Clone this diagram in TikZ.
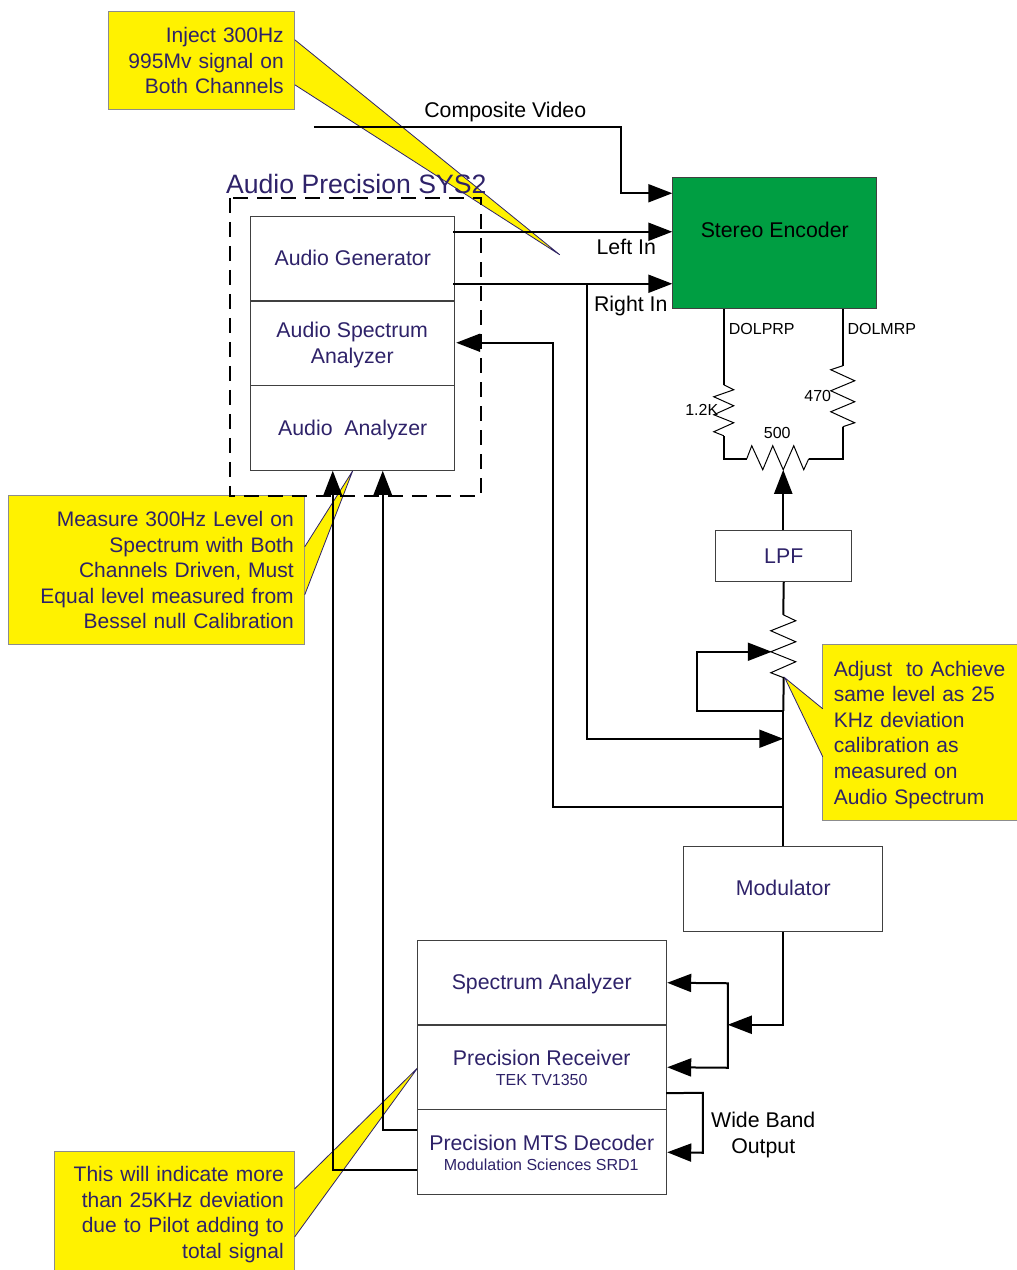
\documentclass[tikz,border=0pt]{standalone}
\usepackage{fontspec}
\setmainfont{Liberation Sans}
\usetikzlibrary{calc,arrows.meta}
\definecolor{inkblue}{HTML}{2E2269}
\definecolor{notefill}{HTML}{FFF200}
\definecolor{encgreen}{HTML}{009E42}
\newcommand{\notetail}[3]{%
  \fill[notefill] (#1) -- (#2) -- (#3) -- cycle;
  \draw[inkblue,line width=0.8pt] (#1) -- (#2) -- (#3);}
\begin{document}
\begin{tikzpicture}[x=1pt,y=-1pt]
       \tikzstyle{unit} = [draw=black!75, line width=0.9pt, inner sep=0pt, align=center, text=inkblue, font=\fontsize{21.3}{26}\selectfont];
       \tikzstyle{note} = [draw=black!45, line width=0.9pt, fill=notefill, inner xsep=11pt, inner ysep=0pt, text=inkblue, font=\fontsize{21}{25.6}\selectfont];
       \tikzstyle{wire} = [line width=2pt];
       \tikzstyle{feed} = [wire, -{Triangle[length=24pt,width=18pt]}];
       \tikzstyle{coil} = [line width=1pt, line join=miter];
       \tikzstyle{tag} = [inner sep=0pt, font=\fontsize{21.3}{26}\selectfont];
       \tikzstyle{caption} = [tag, text=inkblue, anchor=base];
       \tikzstyle{small} = [inner sep=0pt, font=\fontsize{16}{19}\selectfont];
       \useasboundingbox (0.25,0.25) rectangle (1017.25,1270.25);

       % callouts
       \node[note, minimum width=186pt, minimum height=98pt, text width=164pt, align=right, font=\fontsize{21}{25.4}\selectfont] (inject) at (202,61) {Inject 300Hz\\995Mv signal on\\Both Channels};
       \node[note, minimum width=296pt, minimum height=149pt, text width=274pt, align=right] (measure) at (157,570.5) {Measure 300Hz Level on\\Spectrum with Both\\Channels Driven, Must\\Equal level measured from\\Bessel null Calibration};
       \node[note, minimum width=196pt, minimum height=176pt, text width=174pt, align=left] (adjust) at (921,733) {\rule{0pt}{19pt}Adjust\ \ to Achieve\\same level as 25\\KHz deviation\\calibration as\\measured on\\Audio Spectrum};
       \node[note, minimum width=240pt, minimum height=126pt, text width=218pt, align=right] (indicate) at (175,1215) {This will indicate more\\than 25KHz deviation\\due to Pilot adding to\\total signal};
       \notetail{295,40}{560,255}{295,85}
       \notetail{305,547}{353,471}{305,595}
       \notetail{823,709}{785,678}{823,757}
       \notetail{295,1189}{418,1068}{295,1237}

       % audio precision
       \draw[wire, dash pattern=on 15pt off 9pt] (230,198) rectangle (481,496);
       \node[inner sep=0pt, text=inkblue, font=\fontsize{26.6}{30}\selectfont] (sys2) at (356.5,184) {Audio Precision SYS2};
       \node[unit, minimum width=204pt, minimum height=84.5pt] (gen) at (353,259) {};
       \node[unit, minimum width=204pt, minimum height=85pt] (specan) at (353,343.5) {};
       \node[unit, minimum width=204pt, minimum height=85pt] (analyzer) at (353,428.5) {};
       \node[caption] (gentext) at (353,265.5) {Audio Generator};
       \node[tag, text=inkblue, align=center] (specantext) at (352.5,345.5) {Audio Spectrum\\Analyzer};
       \node[caption] (analyzertext) at (353,436) {Audio\ \ Analyzer};

       % chain on the right
       \node[draw=black!75, line width=0.9pt, fill=encgreen, inner sep=0pt, minimum width=204pt, minimum height=131pt] (encoder) at (775,243.5) {};
       \node[tag] (enctext) at (775,230) {Stereo Encoder};
       \node[unit, minimum width=136pt, minimum height=51pt] (lpf) at (784,556.5) {LPF};
       \node[unit, minimum width=199pt, minimum height=85pt] (modulator) at (783.5,889.5) {};
       \node[caption] (modtext) at (783.5,896) {Modulator};

       % measuring sets
       \node[unit, minimum width=249pt, minimum height=84.5pt] (spectrum) at (542.5,983) {};
       \node[unit, minimum width=249pt, minimum height=85pt] (receiver) at (542.5,1067.5) {};
       \node[unit, minimum width=249pt, minimum height=85pt] (decoder) at (542.5,1152.5) {};
       \node[caption] (spectext) at (542,990) {Spectrum Analyzer};
       \node[tag, text=inkblue] (rcvtext) at (542,1058) {Precision Receiver};
       \node[small, text=inkblue] (rcvsub) at (542,1080.5) {TEK TV1350};
       \node[tag, text=inkblue] (dectext) at (542,1143) {Precision MTS Decoder};
       \node[small, text=inkblue] (decsub) at (541.5,1165.5) {Modulation Sciences SRD1};

       % labels
       \node[tag] (composite) at (505.5,112.5) {Composite Video};
       \node[tag] (leftin) at (626.5,247) {Left In};
       \node[tag] (rightin) at (631,306.5) {Right In};
       \node[small] (dolprp) at (762,329.5) {DOLPRP};
       \node[small] (dolmrp) at (882,329.5) {DOLMRP};
       \node[small] (r12k) at (702,410.5) {1.2K};
       \node[small] (r470) at (818,396.5) {470};
       \node[small] (r500) at (777.5,433) {500};
       \node[tag, align=center] (wideband) at (763.5,1135) {Wide Band\\Output};

       % encoder inputs
       \coordinate (vidstart) at (314,127);
       \coordinate (rightbr) at (587,284);
       \coordinate (tapright) at (783.5,739);
       \coordinate (tapspec) at (783.5,807);
       \coordinate (tapwiper) at (783.5,711);
       \coordinate (potwiper) at (783.5,470);
       \coordinate (rfork) at (728,1025);
       \draw[feed] (vidstart) -- (621,127) -- (621,193.5) -- ($(encoder.west)+(0,-50)$);
       \draw[feed] ($(gen.east)+(-2,-27)$) -- ($(encoder.west)+(0,-11.5)$);
       \draw[feed] ($(gen.east)+(-2,25)$) -- ($(encoder.west)+(0,40.5)$);
       \draw[feed] (rightbr) -- (587,739) -- (tapright);

       % resistors
       \draw[wire] ($(encoder.south)+(-51,0)$) -- (724,385);
       \draw[coil] (724,385) -- (734,390) -- (714,397) -- (734,406) -- (714,415) -- (734,423) -- (714,432) -- (724,436);
       \draw[wire] (724,436) -- (724,459) -- (747,459);
       \draw[coil] (747,459) -- (752,446) -- (763,470) -- (773,446) -- (potwiper) -- (794,446) -- (804,470) -- (809,459);
       \draw[wire] (809,459) -- (843,459) -- (843,427);
       \draw[coil] (843,427) -- (855,423) -- (831,412) -- (855,402) -- (831,391) -- (855,381) -- (831,370) -- (843,366);
       \draw[wire] (843,366) -- ($(encoder.south)+(68,0)$);
       \draw[feed] (potwiper |- lpf.north) -- (potwiper);

       % level pot
       \draw[wire] (lpf.south) -- (783.5,615);
       \draw[coil] (783.5,615) -- (796,621) -- (771,631) -- (796,642) -- (771,652) -- (796,662) -- (771,673) -- (784,678);
       \draw[wire] (784,678) -- (tapwiper);
       \draw[wire] (modulator.north) -- (tapwiper);
       \draw[feed] (tapwiper) -- (697,711) -- (697,652) -- (772,652);
       \draw[feed] (tapspec) -- (553,807) -- (553,343) -- ($(specan.east)+(1,-0.5)$);

       % modulator to sets
       \draw[feed] (modulator.south) -- (783.5,1025) -- (rfork);
       \draw[feed] (rfork) -- (728,983.5) -- (spectrum.east);
       \draw[feed] (rfork) -- (728,1068) -- (receiver.east);
       \draw[feed] ($(receiver.south east)+(-1,-17)$) -- (703,1093) -- (703,1153) -- (decoder.east);

       % back to the analyzer
       \draw[feed] ($(decoder.west)+(0,-22.5)$) -- (383,1130) -- (383,471);
       \draw[feed] ($(decoder.west)+(0,17.5)$) -- (333,1170) -- (333,471);
     \end{tikzpicture}
\end{document}
